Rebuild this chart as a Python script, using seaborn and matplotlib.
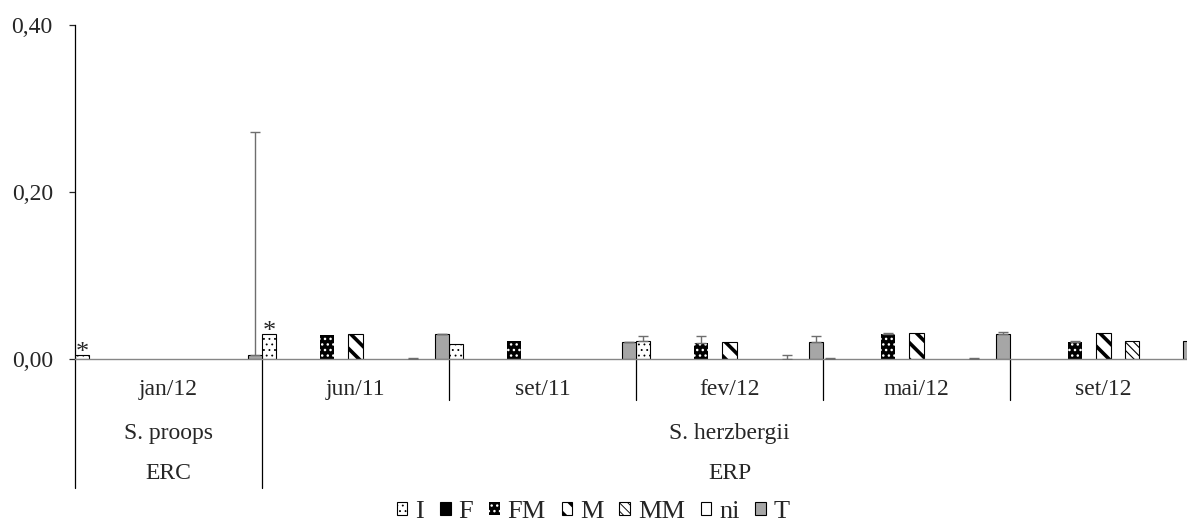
import numpy as np
import pandas as pd
import matplotlib
matplotlib.use("Agg")
import matplotlib.pyplot as plt
import seaborn as sns
from matplotlib.patches import Patch
from matplotlib.ticker import FuncFormatter

# ---- data -------------------------------------------------------------
groups = ["jan/12", "jun/11", "set/11", "fev/12", "mai/12", "set/12"]
species = ["S. proops", "S. herzbergii"]
species_span = [1, 5]          # number of sampling dates per species
sites = ["ERC", "ERP"]
series = ["I", "F", "FM", "M", "MM", "ni", "T"]

val_I = [0.005, 0.030, 0.0175, 0.021, 0.0, 0.0]
val_F = [0.0, 0.0, 0.0, 0.0, 0.0, 0.0]
val_FM = [0.0, 0.029, 0.021, 0.0195, 0.0295, 0.020]
val_M = [0.0, 0.030, 0.0, 0.020, 0.031, 0.031]
val_MM = [0.0, 0.0, 0.0, 0.0, 0.0, 0.022]
val_ni = [0.0, 0.0, 0.0, 0.0, 0.0, 0.0]
val_T = [0.005, 0.030, 0.020, 0.020, 0.030, 0.022]

err_I = [0.0, 0.0, 0.0, 0.006, 0.001, 0.0]
err_F = [0.0, 0.0, 0.0, 0.0, 0.0, 0.0]
err_FM = [0.0, 0.0, 0.0, 0.008, 0.002, 0.002]
err_M = [0.0, 0.0, 0.0, 0.0, 0.0, 0.0]
err_MM = [0.0, 0.0, 0.0, 0.0, 0.0, 0.0]
err_ni = [0.0, 0.001, 0.0, 0.005, 0.001, 0.0]
err_T = [0.2665, 0.0005, 0.0005, 0.0075, 0.002, 0.0]

star_I = [True, True, False, False, False, False]

values = [val_I, val_F, val_FM, val_M, val_MM, val_ni, val_T]
errors = [err_I, err_F, err_FM, err_M, err_MM, err_ni, err_T]

# ---- styling ------------------------------------------------------------
styles = {
    "I":  dict(face="white",   edge="black", hatch="...",      hlw=0.6, lw=0.8),
    "F":  dict(face="black",   edge="black", hatch="",         hlw=1.0, lw=0.8),
    "FM": dict(face="black",   edge="white", hatch="...",      hlw=1.0, lw=0.0),
    "M":  dict(face="white",   edge="black", hatch="\\\\",     hlw=2.6, lw=0.8),
    "MM": dict(face="white",   edge="black", hatch="\\\\\\\\", hlw=0.8, lw=0.8),
    "ni": dict(face="white",   edge="black", hatch="",         hlw=1.0, lw=0.8),
    "T":  dict(face="#a6a6a6", edge="black", hatch="",         hlw=1.0, lw=0.8),
}

sns.set_style("white")
plt.rcParams["font.family"] = ["Liberation Serif", "DejaVu Serif"]
plt.rcParams["hatch.linewidth"] = 1.0
FS = 17
LEG_FS = 19


def style_patch(p, st):
    p.set_facecolor(st["face"])
    p.set_hatch(st["hatch"])
    p.set_edgecolor(st["edge"])
    p.set_linewidth(st["lw"])
    if hasattr(p, "set_hatch_linewidth"):
        p.set_hatch_linewidth(st["hlw"])


records = []
for s, vals in zip(series, values):
    for g, v in zip(groups, vals):
        records.append({"group": g, "series": s, "value": v})
df = pd.DataFrame(records)

W, H = 1187, 524
fig = plt.figure(figsize=(W / 100, H / 100), dpi=100)
ax = fig.add_axes([75 / W, 165 / H, 1122 / W, 334 / H])

sns.barplot(data=df, x="group", y="value", hue="series",
            order=groups, hue_order=series,
            palette=[styles[s]["face"] for s in series],
            width=14 / 13, gap=0.5, errorbar=None, saturation=1,
            edgecolor="black", linewidth=0.8, legend=False, ax=ax)

for s, cont, vals, errs in zip(series, ax.containers, values, errors):
    st = styles[s]
    centers = []
    for bar, v in zip(cont.patches, vals):
        style_patch(bar, st)
        if v == 0:
            bar.set_linewidth(0)
        centers.append(bar.get_x() + bar.get_width() / 2)
    centers = np.array(centers)
    vals_a = np.array(vals)
    errs_a = np.array(errs)
    mask = errs_a > 0
    if mask.any():
        ax.errorbar(centers[mask], vals_a[mask],
                    yerr=[np.zeros(mask.sum()), errs_a[mask]],
                    fmt="none", ecolor="#6e6e6e", elinewidth=1.0,
                    capsize=3.5, capthick=1.0, zorder=3)
    if s == "I":
        for c, v, flag in zip(centers, vals, star_I):
            if flag:
                ax.annotate("*", (c, v), xytext=(0, -3),
                            textcoords="offset points", ha="center",
                            va="baseline", fontsize=19)

# ---- axes -------------------------------------------------------------
ax.set_xlim(-0.5, len(groups) - 0.5)
ax.set_ylim(0, 0.40)
ax.set_yticks([0.0, 0.2, 0.4])
ax.yaxis.set_major_formatter(FuncFormatter(lambda v, _: f"{v:.2f}".replace(".", ",")))
ax.set_xlabel("")
ax.set_ylabel("")
for side in ("top", "right"):
    ax.spines[side].set_visible(False)
ax.spines["bottom"].set_color("#868686")
ax.spines["bottom"].set_linewidth(1.0)
ax.spines["left"].set_color("black")
ax.spines["left"].set_linewidth(0.9)
ax.tick_params(axis="y", direction="out", length=4, width=0.9,
               pad=12, labelsize=FS, left=True)
ax.tick_params(axis="x", length=0, pad=14.5, labelsize=FS)

# ---- multi-level category axis ----------------------------------------
trans = ax.get_xaxis_transform()
deep = -(488 - 359) / 334
shallow = -(400 - 359) / 334
row2 = -(439 - 359) / 334
row3 = -(479 - 359) / 334

start = 0
species_edges = [-0.5]
for name, site, n in zip(species, sites, species_span):
    center = start + (n - 1) / 2
    ax.text(center, row2, name, transform=trans, ha="center",
            va="baseline", fontsize=FS)
    ax.text(center, row3, site, transform=trans, ha="center",
            va="baseline", fontsize=FS)
    start += n
    species_edges.append(start - 0.5)

for i in range(len(groups) + 1):
    edge = i - 0.5
    depth = deep if edge in species_edges[:-1] else shallow
    ax.plot([edge, edge], [0, depth], transform=trans, color="black",
            lw=0.9, clip_on=False)

# ---- legend -------------------------------------------------------------
handles = [Patch(facecolor=styles[s]["face"], edgecolor=styles[s]["edge"],
                 hatch=styles[s]["hatch"], linewidth=styles[s]["lw"])
           for s in series]
leg = fig.legend(handles, series, loc="center", bbox_to_anchor=(0.5, 12 / H),
                 ncol=7, frameon=False, fontsize=LEG_FS, handlelength=0.4,
                 handleheight=0.4, handletextpad=0.3, columnspacing=0.6,
                 borderaxespad=0)
for p, s in zip(leg.get_patches(), series):
    style_patch(p, styles[s])
    if s in ("M", "MM") and hasattr(p, "set_hatch_linewidth"):
        p.set_hatch_linewidth(styles[s]["hlw"] * 0.8)

fig.savefig("out.png", dpi=100)
